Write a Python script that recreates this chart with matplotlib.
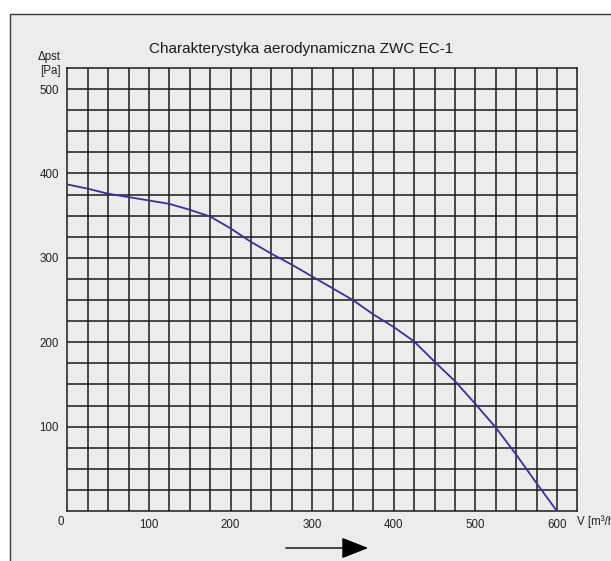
import numpy as np
import matplotlib
matplotlib.use('Agg')
import matplotlib.pyplot as plt
from matplotlib.patches import Rectangle, FancyArrowPatch

plt.rcParams['font.family'] = ['Liberation Sans', 'DejaVu Sans']

# odczyt z wykresu: wydajnosc V [m3/h] i spręż statyczny [Pa]
V = [0, 25, 50, 75, 100, 125, 150, 175, 200, 225, 250, 275, 300,
     325, 350, 375, 400, 425, 450, 475, 500, 525, 550, 575, 600]
dp = [387, 382, 376, 372, 368, 364, 357, 349, 335, 319, 305, 292, 278,
      264, 250, 233, 218, 201, 177, 154, 127, 99, 67, 33, 0]

xticks = [100, 200, 300, 400, 500, 600]
yticks = [100, 200, 300, 400, 500]
title = 'Charakterystyka aerodynamiczna ZWC EC-1'

W, H = 611, 561
fig = plt.figure(figsize=(W/100, H/100), dpi=100)
fig.patch.set_facecolor('white')

# ramka z szarym tlem
fig.patches.append(Rectangle((10/W, -0.1), 1.2, 1.1 - 14/H, transform=fig.transFigure,
                             facecolor='#ececec', edgecolor='#3a3a3a', lw=1.0, zorder=-5))

left, right, top, bottom = 67.3, 577.3, 68, 511
ax = fig.add_axes([left/W, 1 - bottom/H, (right-left)/W, (bottom-top)/H])
ax.set_zorder(2)
ax.set_facecolor('#ececec')
ax.set_xlim(0, 625)
ax.set_ylim(0, 525)

for x in np.arange(25, 625, 25):
    ax.axvline(x, color='#1a1a1a', lw=1.1, zorder=1)
for y in np.arange(25, 525, 25):
    ax.axhline(y, color='#1a1a1a', lw=1.1, zorder=1)
for s in ax.spines.values():
    s.set_color('#1a1a1a')
    s.set_linewidth(1.1)

ax.plot(V, dp, color='#3b2f9e', lw=1.3, zorder=3)

fs = 8.3
ax.set_xticks(xticks)
ax.set_yticks(yticks)
ax.tick_params(length=0, labelsize=fs, colors='#222222', pad=6)
ax.tick_params(axis='y', pad=6)

ax.annotate('0', xy=(0, 0), xytext=(-7, -11), textcoords='offset pixels',
            ha='center', va='center', fontsize=fs, color='#222222', annotation_clip=False)
fig.text(577/W, 1 - 522/H, 'V [m³/h]', fontsize=fs, color='#222222', ha='left', va='center')
fig.text(61/W, 1 - 57/H, 'Δpst', fontsize=fs, color='#222222', ha='right', va='center')
fig.text(61/W, 1 - 71/H, '[Pa]', fontsize=fs, color='#222222', ha='right', va='center')

fig.text(301/W, 1 - 49/H, title, fontsize=11, color='#1a1a1a', ha='center', va='center')

# strzalka pod osia
fig.patches.append(FancyArrowPatch(
    (283/W, 1 - 548/H), (371/W, 1 - 548/H), transform=fig.transFigure,
    arrowstyle='-|>,head_length=1.4,head_width=0.55', mutation_scale=12,
    color='black', lw=1.0, zorder=3))

fig.savefig('out.png', dpi=100)
